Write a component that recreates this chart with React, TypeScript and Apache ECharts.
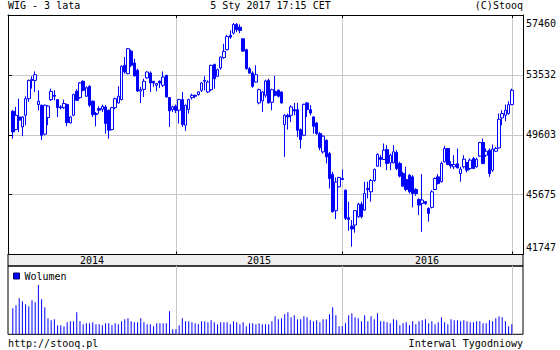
import React, { useEffect, useRef } from 'react';
import * as echarts from 'echarts';

// Weekly WIG candles (weeks ending Fridays, from 2014-01-10 to 2017-01-06)
const OPEN = [
  51140,49940,50770,50120,50880,51970,53170,53170,51580,51540,
  49640,50730,51910,52190,51910,51380,51380,51580,50380,50880,
  52450,52040,53110,52130,52780,51800,50990,51320,51270,51430,
  51210,49940,51380,51690,51910,54160,53610,55090,54310,53830,
  52470,52580,53330,53650,53110,52850,53110,52850,53500,52040,
  51250,51470,51210,51910,50230,51270,52040,52190,52240,52520,
  53170,52410,52560,54220,53440,53980,54660,55180,56120,56270,
  56840,56660,55900,55180,53940,53650,53060,51690,51820,52190,
  53170,51730,52450,52520,52410,50270,50880,50880,51250,51250,
  49940,49570,51690,51250,50770,50380,49680,48480,49240,48370,
  47000,44620,46190,46730,45970,44160,43610,43680,44230,45050,
  44660,46080,45860,46600,47540,48110,47980,48630,47760,47760,
  48440,47720,47060,46670,46950,46840,46010,45360,45100,45210,
  44770,44840,46010,46840,46520,47830,48700,47650,47500,47700,
  47060,47500,47780,47390,48040,47500,48200,49090,48260,48590,
  47280,48520,48740,50710,50880,50990,51580,
];
const CLOSE = [
  49790,50880,50560,50770,51970,53170,53220,53540,51800,49570,
  51540,51490,52450,52130,51380,51430,51650,50400,50770,52240,
  51860,53000,52520,52690,51540,50930,50930,51210,51470,50340,
  49900,51380,51970,52130,54090,53720,55250,54160,53460,52470,
  52560,53110,53720,53000,53000,52960,53000,53390,52080,51170,
  51430,51210,51910,50270,51540,51910,52190,52130,52410,53000,
  53110,53060,54160,53280,53870,54700,55070,56050,56010,56840,
  56490,56450,55090,53940,53650,52780,53540,52560,52410,53130,
  51690,52560,52190,52130,51690,50880,50770,51430,51160,49900,
  49290,51600,51250,51030,50160,49680,48760,49510,48150,46730,
  44550,46500,46800,46670,44120,44050,43420,44620,45050,44230,
  45750,46010,46600,47320,48320,47980,48590,47720,48260,48480,
  47390,46890,46230,46010,45860,45750,45750,44990,45320,45100,
  44440,45860,46730,46410,47720,48700,47650,47560,47650,47430,
  47350,48000,47280,47940,47390,48000,49090,47720,48520,47060,
  48660,48700,50620,50990,51210,51580,52520,
];
const LOW = [
  49350,49900,49790,49510,50230,51760,52630,52410,51210,49250,
  49570,50230,51820,51860,50770,51270,51300,50160,50340,50820,
  51820,51970,52450,52080,51430,50770,50160,50990,51100,49680,
  49350,49900,51270,51650,51860,53610,53570,54050,53440,52410,
  51690,52080,53280,52410,52740,52450,52670,52740,52040,50120,
  51100,51030,50340,50120,49860,50990,51910,52000,52170,52410,
  52520,52340,52470,52630,53390,53870,54590,55140,55900,56180,
  56340,56270,55050,53870,53610,52690,53020,51600,51100,52040,
  51650,51210,52130,52050,51650,48150,49940,50440,50880,49460,
  48700,49510,50770,50880,49680,49600,48590,48370,47720,46080,
  44510,44070,46150,46630,44010,43300,42260,43180,44150,44120,
  44620,45430,45210,46520,47500,47500,47950,47280,47280,47720,
  47280,46800,46190,45900,45750,44840,45600,44330,43240,45000,
  43900,44770,45970,46340,46470,47780,47610,47390,47350,47390,
  46520,47390,47130,47300,47350,47450,48150,47670,48150,46840,
  47170,48480,48700,50230,50490,50920,51540,
];
const HIGH = [
  51210,51430,51970,50820,52130,53220,53440,53760,52520,51580,
  51580,51540,52630,52520,51950,51540,51910,51650,50820,52300,
  52580,53060,53170,52780,52850,51860,51100,51470,51580,51540,
  51250,51430,52040,52780,54160,54700,55290,55180,54590,53940,
  52740,53280,53760,53760,53130,53000,53170,53760,53540,52080,
  51510,51580,51970,52410,51580,51970,52300,52240,52450,53060,
  53440,53170,54200,54260,53940,54740,55570,56160,56450,56930,
  56930,56840,55950,55250,54050,53760,54160,52630,52450,53220,
  53280,52630,53460,52580,52450,50950,50990,51540,51690,51690,
  50010,51640,51750,51540,50820,50420,49790,49570,49290,48480,
  47170,46800,46840,47320,46010,45210,44010,44660,45140,45210,
  46520,46520,46700,47390,48370,48260,49030,48920,48370,48920,
  48590,47830,47170,47500,47020,46950,46100,45430,47020,45250,
  44840,45970,46800,47020,47830,48870,48740,47870,48260,48700,
  47500,48260,47830,48050,48150,48100,49140,49350,48700,48700,
  48960,48810,50990,51210,51580,51800,52630,
];
const VOLUME = [
  26,29,36,33,30,28,34,32,49,35,27,16,14,15,9,9,8,12,13,13,
  22,13,10,11,11,12,10,10,9,11,11,9,11,10,13,15,16,13,12,12,
  16,12,10,10,8,11,11,11,11,23,5,5,
  9,16,13,13,12,11,10,13,13,12,14,12,10,12,12,12,10,13,12,10,
  12,8,11,11,10,11,10,10,10,13,18,15,
  16,20,22,17,19,15,15,18,17,14,13,14,12,15,15,20,27,19,8,8,
  11,19,21,17,16,13,19,13,18,15,21,13,13,12,11,15,14,9,11,12,
  9,13,10,13,14,15,11,13,10,12,17,12,10,15,14,14,13,14,13,12,
  12,13,13,11,11,14,13,16,18,17,13,8,10,
];
const Y_TICKS = [41747, 45675, 49603, 53532, 57460];
const YEAR_LABELS = ['2014', '2015', '2016'];

const FIRST_FRIDAY = Date.UTC(2014, 0, 10);
const WEEK_MS = 7 * 86400000;
const LEAD = 1;
const TRAIL = 3;
const WEEKS = OPEN.map((_, i) => new Date(FIRST_FRIDAY + i * WEEK_MS).toISOString().slice(0, 10));
const CATEGORIES = [
  ...Array.from({ length: LEAD }, (_, i) => 'pad-a' + i),
  ...WEEKS,
  ...Array.from({ length: TRAIL }, (_, i) => 'pad-b' + i),
];
const YEAR_STARTS: number[] = [];
for (let i = 1; i < WEEKS.length; i++) {
  if (WEEKS[i].slice(0, 4) !== WEEKS[i - 1].slice(0, 4)) YEAR_STARTS.push(i + LEAD);
}
const isYearStart = (index: number) => YEAR_STARTS.indexOf(index) >= 0;
const YEAR_EDGES = [-0.5, ...YEAR_STARTS];
const YEAR_MIDS = YEAR_LABELS.map((_, i) => (YEAR_EDGES[i] + YEAR_EDGES[i + 1]) / 2);

const FONT = '"DejaVu Sans Mono", monospace';
const BLUE = '#0000ff';
const GRID_GRAY = '#c8c8c8';

export default function App() {
  const ref = useRef<HTMLDivElement>(null);
  useEffect(() => {
    if (!ref.current) return;
    const chart = echarts.init(ref.current, undefined, { renderer: 'svg' });
    const candles = OPEN.map((o, i) => [i + LEAD, o, CLOSE[i], LOW[i], HIGH[i]]);
    const vols = VOLUME.map((v, i) => [i + LEAD, v]);
    const yMin = Y_TICKS[0];
    const yMax = Y_TICKS[Y_TICKS.length - 1];
    const option: any = {
      animation: false,
      backgroundColor: '#ffffff',
      textStyle: { fontFamily: FONT, fontSize: 10 },
      grid: [
        { left: 8, right: 37, top: 15, height: 239.5 },
        { left: 8, right: 37, top: 254.5, height: 11.5, show: true, backgroundColor: '#eeeeee', borderColor: '#000', borderWidth: 1 },
        { left: 8, right: 37, top: 266, height: 68.3, show: true, backgroundColor: 'transparent', borderColor: '#000', borderWidth: 1 },
      ],
      legend: {
        data: ['Wolumen'], left: 13, top: 271, padding: 0, icon: 'rect', itemWidth: 6, itemHeight: 6,
        selectedMode: false,
        itemStyle: { borderColor: '#000066', borderWidth: 1 },
        textStyle: { color: '#000', fontFamily: FONT, fontSize: 10 },
      },
      xAxis: [
        {
          type: 'category', gridIndex: 0, data: CATEGORIES, position: 'bottom', boundaryGap: true,
          axisLine: { show: true, onZero: false, lineStyle: { color: '#000', width: 1 } },
          axisTick: { show: true, inside: true, length: 3, interval: isYearStart, alignWithLabel: true, lineStyle: { color: '#000' } },
          axisLabel: { show: false },
          splitLine: { show: true, interval: isYearStart, alignWithLabel: true, lineStyle: { color: GRID_GRAY, width: 1 } },
        },
        {
          type: 'category', gridIndex: 0, data: CATEGORIES, position: 'top', boundaryGap: true,
          axisLine: { show: true, onZero: false, lineStyle: { color: '#000', width: 1 } },
          axisTick: { show: true, inside: true, length: 3, interval: isYearStart, alignWithLabel: true, lineStyle: { color: '#000' } },
          axisLabel: { show: false },
          splitLine: { show: false },
        },
        {
          type: 'value', gridIndex: 1, min: -0.5, max: CATEGORIES.length - 0.5,
          axisLine: { show: false, onZero: false }, axisTick: { show: false }, splitLine: { show: false },
          axisLabel: {
            show: true, inside: true, margin: 6, verticalAlign: 'middle', color: '#000',
            fontFamily: FONT, fontSize: 10,
            customValues: YEAR_MIDS,
            formatter: (v: number) => {
              const k = YEAR_MIDS.findIndex((m) => Math.abs(m - v) < 1e-6);
              return k >= 0 ? YEAR_LABELS[k] : '';
            },
          },
        },
        {
          type: 'category', gridIndex: 2, data: CATEGORIES, boundaryGap: true,
          axisLine: { show: false, onZero: false }, axisTick: { show: false }, axisLabel: { show: false },
          splitLine: { show: true, interval: isYearStart, alignWithLabel: true, lineStyle: { color: GRID_GRAY, width: 1 } },
        },
      ],
      yAxis: [
        {
          type: 'value', gridIndex: 0, position: 'left', min: yMin, max: yMax,
          axisLine: { show: true, lineStyle: { color: '#000', width: 1 } },
          axisTick: { show: true, inside: true, length: 4, customValues: Y_TICKS, lineStyle: { color: '#000' } },
          axisLabel: { show: false },
          splitLine: { show: false },
        },
        {
          type: 'value', gridIndex: 0, position: 'right', min: yMin, max: yMax,
          axisLine: { show: true, lineStyle: { color: '#000', width: 1 } },
          axisTick: { show: false, customValues: Y_TICKS },
          axisLabel: {
            show: true, margin: 3, color: '#000', fontFamily: FONT, fontSize: 10,
            customValues: Y_TICKS,
            formatter: (v: number) => {
              const s = String(Math.round(v));
              if (Math.round(v) === yMax) return '{t|' + s + '}';
              if (Math.round(v) === yMin) return '{b|' + s + '}';
              return s;
            },
            rich: {
              t: { padding: [16, 0, 0, 0], fontFamily: FONT, fontSize: 10, color: '#000' },
              b: { padding: [0, 0, 15, 0], fontFamily: FONT, fontSize: 10, color: '#000' },
            },
          },
          splitLine: { show: true, lineStyle: { color: GRID_GRAY, width: 1 } },
        },
        { type: 'value', gridIndex: 1, show: false },
        { type: 'value', gridIndex: 2, min: 0, max: 68, show: false },
      ],
      series: [
        {
          type: 'candlestick', name: 'WIG', xAxisIndex: 0, yAxisIndex: 1,
          data: candles, encode: { x: 0, y: [1, 2, 3, 4] }, barWidth: 3, silent: true,
          itemStyle: { color: '#ffffff', color0: BLUE, borderColor: BLUE, borderColor0: BLUE, borderWidth: 1 },
        },
        {
          type: 'bar', name: 'Wolumen', xAxisIndex: 3, yAxisIndex: 3,
          data: vols, encode: { x: 0, y: 1 }, barWidth: 1, silent: true,
          itemStyle: { color: BLUE },
        },
      ],
      graphic: [
        { type: 'text', silent: true, style: { text: 'WIG - 3 lata', x: 8, y: 5.5, font: '10px "DejaVu Sans Mono"', fill: '#000', textAlign: 'left', textVerticalAlign: 'middle' } },
        { type: 'text', silent: true, style: { text: '5 Sty 2017 17:15 CET', x: 270.5, y: 5.5, font: '10px "DejaVu Sans Mono"', fill: '#000', textAlign: 'center', textVerticalAlign: 'middle' } },
        { type: 'text', silent: true, style: { text: '(C)Stooq', x: 523, y: 5.5, font: '10px "DejaVu Sans Mono"', fill: '#000', textAlign: 'right', textVerticalAlign: 'middle' } },
        { type: 'text', silent: true, style: { text: 'http://stooq.pl', x: 8, y: 343.5, font: '10px "DejaVu Sans Mono"', fill: '#000', textAlign: 'left', textVerticalAlign: 'middle' } },
        { type: 'text', silent: true, style: { text: 'Interwal Tygodniowy', x: 523, y: 343.5, font: '10px "DejaVu Sans Mono"', fill: '#000', textAlign: 'right', textVerticalAlign: 'middle' } },
      ],
    };
    chart.setOption(option);
    return () => chart.dispose();
  }, []);
  return (
    <div
      ref={ref}
      style={{ position: 'absolute', left: 0, top: 0, width: 560, height: 350, background: '#fff' }}
    />
  );
}
